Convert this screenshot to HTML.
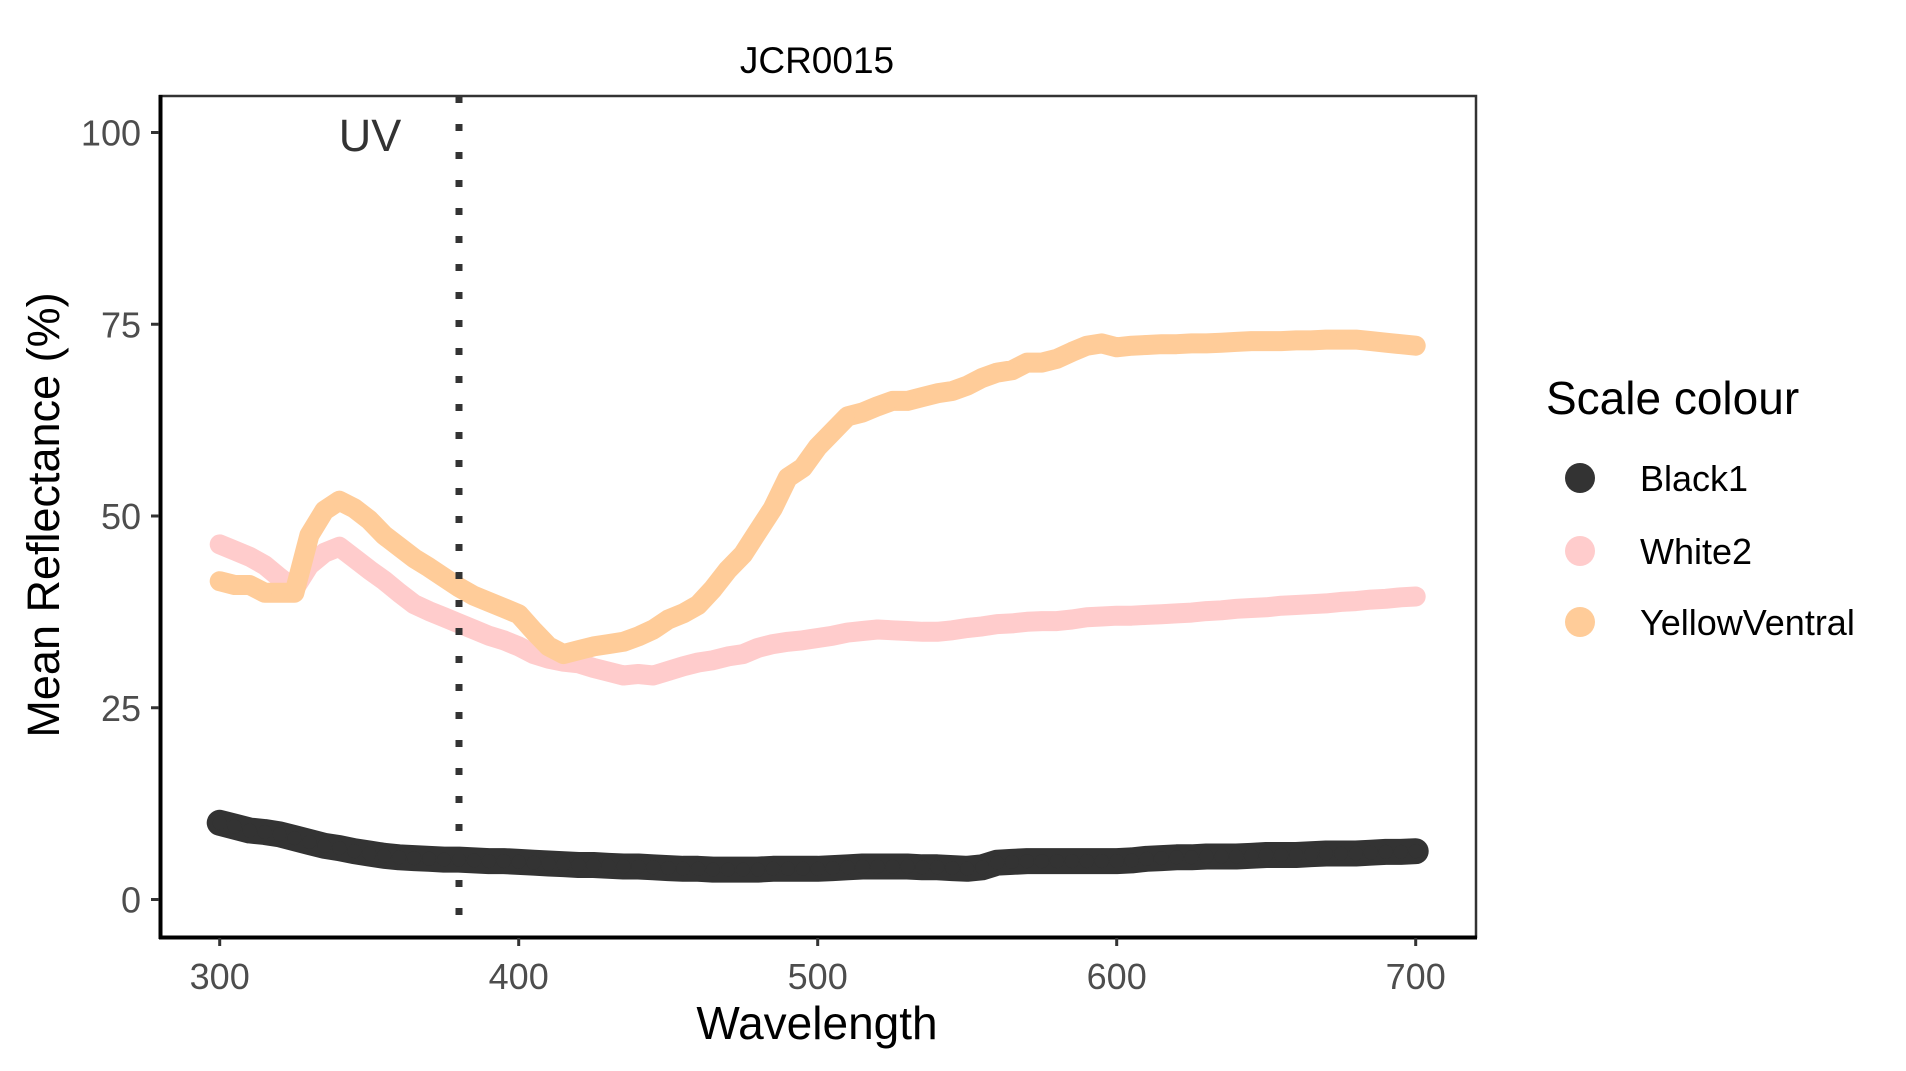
<!DOCTYPE html>
<html><head><meta charset="utf-8"><style>
html,body{margin:0;padding:0;background:#fff;}
svg{display:block;font-family:"Liberation Sans",Arial,sans-serif;}
</style></head><body>
<svg id="chart" width="1906" height="1071" viewBox="0 0 1906 1071" xmlns="http://www.w3.org/2000/svg">
<rect width="1906" height="1071" fill="#fff"/>
<text x="817" y="73" font-size="37" text-anchor="middle" fill="#000">JCR0015</text>
<g id="marks"></g>
<line x1="459" y1="96" x2="459" y2="937" stroke="#333" stroke-width="7" stroke-dasharray="7 21"/>
<text x="370" y="151" font-size="45" text-anchor="middle" fill="#333">UV</text>
<rect x="160" y="96" width="1316" height="841" fill="none" stroke="#333" stroke-width="2.5"/>
<line x1="159" y1="937.5" x2="1477" y2="937.5" stroke="#000" stroke-width="4"/>
<line x1="160.5" y1="95" x2="160.5" y2="939" stroke="#000" stroke-width="4"/>
<g id="axes"></g>
<text x="817" y="1039" font-size="46" text-anchor="middle" fill="#000">Wavelength</text>
<text transform="translate(59,515) rotate(-90)" font-size="45" text-anchor="middle" fill="#000">Mean Reflectance (%)</text>
<g>
<text x="1546" y="414" font-size="46" fill="#000">Scale colour</text>
<circle cx="1580" cy="478" r="15" fill="#333333"/>
<text x="1640" y="491" font-size="36" fill="#000">Black1</text>
<circle cx="1580" cy="551" r="15" fill="#FFCCCC"/>
<text x="1640" y="564" font-size="36" fill="#000">White2</text>
<circle cx="1580" cy="622" r="15" fill="#FFCC99"/>
<text x="1640" y="635" font-size="36" fill="#000">YellowVentral</text>
</g>
</svg>
<script>
const wavelengths = [300,305,310,315,320,325,330,335,340,345,350,355,360,365,370,375,380,385,390,395,400,405,410,415,420,425,430,435,440,445,450,455,460,465,470,475,480,485,490,495,500,505,510,515,520,525,530,535,540,545,550,555,560,565,570,575,580,585,590,595,600,605,610,615,620,625,630,635,640,645,650,655,660,665,670,675,680,685,690,695,700];
const yellowVentral = [41.5,41,41,40,40,40,47.5,50.7,52,51,49.5,47.5,46,44.5,43.3,42,40.7,39.6,38.8,38,37.2,35,33,32,32.5,33,33.3,33.6,34.3,35.2,36.5,37.3,38.4,40.5,43,45,48,51,55,56.3,59,61,63,63.5,64.3,65,65,65.5,66,66.3,67,68,68.7,69,70,70,70.5,71.4,72.2,72.5,72,72.2,72.3,72.4,72.4,72.5,72.5,72.6,72.7,72.8,72.8,72.8,72.9,72.9,73,73,73,72.8,72.6,72.4,72.2];
const white2 = [46.3,45.5,44.7,43.6,42,40.5,43.6,45.2,46,44.5,43,41.6,40,38.5,37.6,36.8,36,35.2,34.4,33.8,33,32,31.4,31,30.8,30.2,29.7,29.2,29.4,29.2,29.8,30.4,30.9,31.2,31.7,32,32.8,33.3,33.6,33.8,34.1,34.4,34.8,35,35.2,35.1,35,34.9,34.9,35.1,35.4,35.6,35.9,36,36.2,36.3,36.3,36.5,36.8,36.9,37,37,37.1,37.2,37.3,37.4,37.6,37.7,37.9,38,38.1,38.3,38.4,38.5,38.6,38.8,38.9,39.1,39.2,39.4,39.5];
const black1 = [10,9.5,9,8.8,8.5,8,7.5,7,6.7,6.3,6,5.7,5.5,5.4,5.3,5.2,5.2,5.1,5,5,4.9,4.8,4.7,4.6,4.5,4.5,4.4,4.3,4.3,4.2,4.1,4.0,4.0,3.9,3.9,3.9,3.9,4.0,4.0,4.0,4.0,4.1,4.2,4.3,4.3,4.3,4.3,4.2,4.2,4.1,4.0,4.2,4.8,4.9,5,5,5,5,5,5,5,5.1,5.3,5.4,5.5,5.5,5.6,5.6,5.6,5.7,5.8,5.8,5.8,5.9,6,6,6,6.1,6.2,6.2,6.3];
const xTicks = [300,400,500,600,700];
const yTicks = [0,25,50,75,100];

const NS = 'http://www.w3.org/2000/svg';
function xScale(w){ return 219.7 + (w - 300) * 2.99; }
function yScale(v){ return 899.5 - v * 7.67; }

const marks = document.getElementById('marks');
const axes = document.getElementById('axes');
function mk(tag, attrs, parent){
  const e = document.createElementNS(NS, tag);
  for (const k in attrs) e.setAttribute(k, attrs[k]);
  parent.appendChild(e);
  return e;
}
function drawSeries(vals, color, width, key){
  const g = mk('g', {}, marks);
  
  
  let d = '';
  vals.forEach((v, i) => { d += (i ? 'L' : 'M') + xScale(wavelengths[i]).toFixed(1) + ',' + yScale(v).toFixed(1); });
  const p = mk('path', {d: d, fill: 'none', stroke: color, 'stroke-width': width, 'stroke-linejoin': 'round', 'stroke-linecap': 'round'}, g);
  
  
  vals.forEach((v, i) => {
    const c = mk('circle', {cx: xScale(wavelengths[i]).toFixed(1), cy: yScale(v).toFixed(1), r: 7, fill: color}, g);
    
    
  });
}
drawSeries(black1, '#333333', 26, 'black1');
drawSeries(white2, '#FFCCCC', 20, 'white2');
drawSeries(yellowVentral, '#FFCC99', 20, 'yellowventral');

xTicks.forEach(t => {
  const x = xScale(t);
  const l = mk('line', {x1: x, y1: 938, x2: x, y2: 946, stroke: '#333', 'stroke-width': 3}, axes);
  
  
  const tx = mk('text', {x: x, y: 989, 'font-size': 36, 'text-anchor': 'middle', fill: '#4d4d4d'}, axes);
  tx.textContent = t;
  
  
});
yTicks.forEach(t => {
  const y = yScale(t);
  const l = mk('line', {x1: 151, y1: y, x2: 159, y2: y, stroke: '#333', 'stroke-width': 3}, axes);
  
  
  const tx = mk('text', {x: 141, y: y + 13, 'font-size': 36, 'text-anchor': 'end', fill: '#4d4d4d'}, axes);
  tx.textContent = t;
  
  
});
</script>
</body></html>
